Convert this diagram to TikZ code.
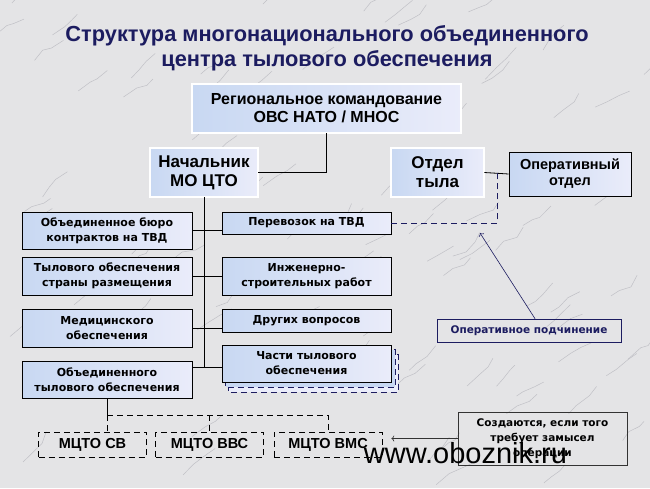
\documentclass[tikz,border=0pt]{standalone}
\usepackage{fontspec}
\setmainfont{Liberation Sans}
\newfontfamily\dvfont{DejaVu Sans}
\usepackage{xcolor}
\usetikzlibrary{arrows.meta,positioning,calc,backgrounds}

\definecolor{navy}{RGB}{28,28,96}
\definecolor{marble}{RGB}{228,228,230}
\definecolor{vein}{RGB}{192,192,198}
\definecolor{boxl}{RGB}{200,216,242}
\definecolor{boxr}{RGB}{234,236,250}

\begin{document}
\begin{tikzpicture}[x=1pt,y=-1pt,
    head/.style={draw=black,double=white,double distance=1.2pt,line width=0.7pt,
      left color=boxl,right color=boxr,inner sep=0pt,align=center,
      font=\bfseries\fontsize{17}{19}\selectfont},
    unit/.style={draw=black,line width=0.7pt,left color=boxl,right color=boxr,
      inner sep=0pt,align=center,minimum width=170,
      font=\dvfont\bfseries\fontsize{11}{15}\selectfont},
    mcto/.style={draw=black,dash pattern=on 6pt off 4pt,line width=0.7pt,
      minimum width=108,minimum height=25,inner sep=0pt,
      font=\bfseries\fontsize{14.5}{16}\selectfont},
    link/.style={line width=0.8pt},
    dlink/.style={line width=0.8pt,draw=navy,dash pattern=on 6pt off 4pt},
    veinline/.style={vein,line width=0.5pt,line join=round}]
    \useasboundingbox (0,0) rectangle (650,488);
    % Background (marble)
    \begin{scope}[on background layer]
      \clip (0,0) rectangle (650,488);
      \fill[marble] (0,0) rectangle (650,488);
      \pgfmathsetseed{11}
      \foreach \k in {1,...,90}{
        \pgfmathsetmacro{\xa}{rnd*650}
        \pgfmathsetmacro{\ya}{rnd*488}
        \draw[veinline] (\xa,\ya) -- ++(6+rnd*8,-4-rnd*8) -- ++(6+rnd*8,-2-rnd*8) -- ++(4+rnd*8,-4-rnd*8);
      }
    \end{scope}

    % Title
    \node[navy,align=center,font=\bfseries\fontsize{21.8}{25}\selectfont] (title) at (327,48)
      {Структура многонационального объединенного\\центра тылового обеспечения};

    % Command
    \node[head,minimum width=269,minimum height=49,font=\bfseries\fontsize{16}{18}\selectfont] (reg) at (326.5,108.5)
      {Региональное командование\\ОВС НАТО / МНОС};
    \node[head,minimum width=108,minimum height=49] (nach) at (204,172.5) {Начальник\\МО ЦТО};
    \node[head,minimum width=93,minimum height=49] (otdel) at (437.5,172.5) {Отдел\\тыла};
    \node[draw=black,line width=0.7pt,left color=boxl,right color=boxr,inner sep=0pt,align=center,
      minimum width=122,minimum height=44,font=\bfseries\fontsize{14.5}{16}\selectfont] (oper) at (570,174)
      {Оперативный\\отдел};

    % Left column
    \node[unit,minimum height=37] (byuro) at (107,230.5) {Объединенное бюро\\контрактов на ТВД};
    \node[unit,minimum height=38] (strany) at (107,276) {Тылового обеспечения\\страны размещения};
    \node[unit,minimum height=38] (med) at (107,328) {Медицинского\\обеспечения};
    \node[unit,minimum height=37] (otob) at (107,379.5) {Объединенного\\тылового обеспечения};

    % Right column
    \node[unit,minimum width=169,minimum height=22] (perev) at (306.5,223) {Перевозок на ТВД};
    \node[unit,minimum width=169,minimum height=38] (inzh) at (306.5,276) {Инженерно-\\строительных работ};
    \node[unit,minimum width=169,minimum height=23] (drug) at (306.5,320.5) {Других вопросов};
    \node[unit,minimum width=169,minimum height=37] (chasti) at (306.5,363.5) {Части тылового\\обеспечения};
    \begin{scope}[on background layer]
      \draw[dlink,fill=boxr] ([shift={(7,10)}]chasti.north west) rectangle ([shift={(7,10)}]chasti.south east);
      \draw[dlink,fill=boxl] ([shift={(4,5)}]chasti.north west) rectangle ([shift={(4,5)}]chasti.south east);
    \end{scope}

    % Notes
    \node[draw=navy,line width=0.7pt,text=navy,minimum width=184,minimum height=23,inner sep=0pt,
      font=\dvfont\bfseries\fontsize{10.5}{12}\selectfont] (podch) at (529,330.5) {Оперативное подчинение};
    \coordinate (optarget) at (480,233);
    \node[draw=black!80,line width=0.7pt,minimum width=169,minimum height=53,inner sep=0pt,align=center,
      font=\dvfont\bfseries\fontsize{10.5}{15}\selectfont] (note) at (542.5,438.5)
      {Создаются, если того\\требует замысел\\операции};

    % Bottom
    \node[mcto] (sv) at (92.5,444.5) {МЦТО СВ};
    \node[mcto] (vvs) at (209.5,444.5) {МЦТО ВВС};
    \node[mcto] (vms) at (328,444.5) {МЦТО ВМС};

    % Links
    \draw[link] (reg.south) |- (nach.east);
    \draw[link] (otdel.east) -- (oper.west);
    \draw[dlink] (perev.east) -| ($(otdel.east)!.55!(oper.west)$);
    \draw[link] (nach.south) -- ([yshift=-4pt]nach.south |- chasti.west);
    \draw[link] (byuro.east) -- (byuro.east -| perev.west);
    \draw[link] (strany.east) -- (inzh.west);
    \draw[link] (med.east) -- (med.east -| drug.west);
    \draw[link] ([yshift=-4pt]otob.east |- chasti.west) -- ([yshift=-4pt]chasti.west);
    \draw[->,navy,line width=0.6pt] ([xshift=6pt]podch.north) -- (optarget);
    \draw[link] (otob.south) -- ++(0,17) coordinate (bus);
    \draw[link,dash pattern=on 6pt off 4pt] (bus) -| (vms.north);
    \draw[link,dash pattern=on 6pt off 4pt] (bus) -- (bus |- sv.north);
    \draw[link,dash pattern=on 6pt off 4pt] (bus -| vvs.north) -- (vvs.north);
    \draw[->,black!80,line width=0.6pt] (note.west) -- ([xshift=9pt]note.west -| vms.east);

    % Watermark
    \node[font=\fontsize{29}{30}\selectfont] (wm) at (465.5,453) {www.oboznik.ru};
\end{tikzpicture}
\end{document}
